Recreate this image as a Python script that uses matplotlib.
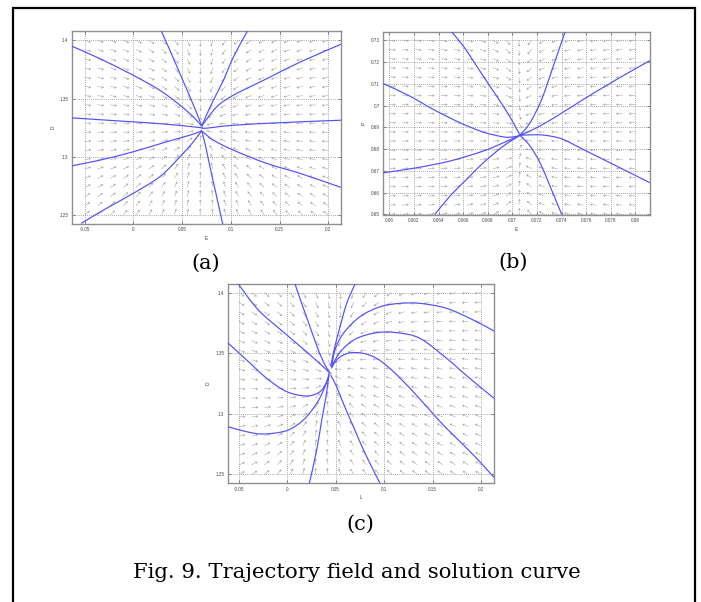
import numpy as np
import matplotlib
matplotlib.use("Agg")
import matplotlib.pyplot as plt
from matplotlib.patches import Rectangle, PathPatch
from matplotlib.path import Path

# ---------------- panel (a): E-D phase plane ----------------
a_xlim = [-0.0631, 0.2130]
a_ylim = [1.2423, 1.4080]
a_xticks = [-0.05, 0, 0.05, 0.1, 0.15, 0.2]
a_xticklabels = ["-0.05", "0", "0.05", "0.1", "0.15", "0.2"]
a_yticks = [1.25, 1.3, 1.35, 1.4]
a_yticklabels = ["1.25", "1.3", "1.35", "1.4"]
a_labels = ["E", "D"]
a_grid_x = [-0.05, 0.2]
a_grid_y = [1.25, 1.40]
a_equilibrium = [0.0700, 1.3245]
a_jacobian = [[-2.0, 0.0], [0.0, -1.5]]
a_quad = 0.8
a_traj_E = [
    [-0.0631, -0.0346, -0.0003, 0.0271, 0.0477, 0.0614, 0.0700],
    [0.0285, 0.0374, 0.0477, 0.0580, 0.0665, 0.0700],
    [0.1170, 0.1026, 0.0923, 0.0820, 0.0734, 0.0700],
    [0.2130, 0.1712, 0.1369, 0.1026, 0.0854, 0.0700],
    [-0.0631, -0.0175, 0.0340, 0.0700],
    [0.2130, 0.1540, 0.1026, 0.0751, 0.0700],
    [-0.0631, -0.0346, -0.0003, 0.0340, 0.0580, 0.0700],
    [-0.0535, -0.0278, -0.0003, 0.0271, 0.0477, 0.0614, 0.0700],
    [0.0916, 0.0854, 0.0785, 0.0734, 0.0700],
    [0.2130, 0.1712, 0.1369, 0.1026, 0.0820, 0.0700],
]
a_traj_D = [
    [1.3949, 1.3843, 1.3700, 1.3571, 1.3443, 1.3343, 1.3263],
    [1.4080, 1.3914, 1.3714, 1.3514, 1.3343, 1.3263],
    [1.4080, 1.3857, 1.3657, 1.3486, 1.3329, 1.3263],
    [1.3966, 1.3814, 1.3671, 1.3529, 1.3429, 1.3263],
    [1.3334, 1.3309, 1.3280, 1.3249],
    [1.3314, 1.3294, 1.3271, 1.3246, 1.3249],
    [1.2923, 1.2971, 1.3043, 1.3129, 1.3186, 1.3223],
    [1.2429, 1.2557, 1.2686, 1.2829, 1.3000, 1.3129, 1.3223],
    [1.2423, 1.2657, 1.2914, 1.3114, 1.3223],
    [1.2737, 1.2857, 1.2943, 1.3057, 1.3143, 1.3223],
]

# ---------------- panel (b): E-P phase plane ----------------
b_xlim = [0.05951, 0.08119]
b_ylim = [0.6497, 0.7338]
b_xticks = [0.06, 0.062, 0.064, 0.066, 0.068, 0.07, 0.072, 0.074, 0.076, 0.078, 0.08]
b_xticklabels = ["0.06", "0.062", "0.064", "0.066", "0.068", "0.07",
                 "0.072", "0.074", "0.076", "0.078", "0.08"]
b_yticks = [0.65, 0.66, 0.67, 0.68, 0.69, 0.70, 0.71, 0.72, 0.73]
b_yticklabels = ["0.65", "0.66", "0.67", "0.68", "0.69", "0.7", "0.71", "0.72", "0.73"]
b_labels = ["E", "P"]
b_grid_x = [0.06, 0.08]
b_grid_y = [0.65, 0.73]
b_equilibrium = [0.07062, 0.68625]
b_jacobian = [[-2.0, 0.0], [0.0, -0.3]]
b_quad = 0.0
b_traj_E = [
    [0.06507, 0.06602, 0.06710, 0.06818, 0.06927, 0.07008, 0.07062],
    [0.07428, 0.07333, 0.07238, 0.07144, 0.07062],
    [0.08119, 0.07848, 0.07577, 0.07360, 0.07198, 0.07062],
    [0.05951, 0.06168, 0.06358, 0.06575, 0.06764, 0.06927, 0.07008, 0.07062],
    [0.08119, 0.07794, 0.07577, 0.07415, 0.07306, 0.07198, 0.07062],
    [0.05951, 0.06222, 0.06493, 0.06764, 0.06927, 0.07062],
    [0.06371, 0.06493, 0.06629, 0.06764, 0.06927, 0.07062],
    [0.07401, 0.07306, 0.07225, 0.07144, 0.07062],
]
b_traj_P = [
    [0.7338, 0.7273, 0.7181, 0.7089, 0.6997, 0.6921, 0.6863],
    [0.7338, 0.7181, 0.7028, 0.6921, 0.6863],
    [0.7207, 0.7120, 0.7028, 0.6951, 0.6898, 0.6863],
    [0.7101, 0.7043, 0.6982, 0.6921, 0.6878, 0.6856, 0.6856, 0.6863],
    [0.6645, 0.6737, 0.6798, 0.6844, 0.6860, 0.6866, 0.6863],
    [0.6691, 0.6714, 0.6745, 0.6791, 0.6829, 0.6863],
    [0.6500, 0.6584, 0.6661, 0.6737, 0.6814, 0.6863],
    [0.6500, 0.6630, 0.6737, 0.6814, 0.6863],
]

# ---------------- panel (c): L-D phase plane ----------------
c_xlim = [-0.0616, 0.2134]
c_ylim = [1.2426, 1.4072]
c_xticks = a_xticks
c_xticklabels = a_xticklabels
c_yticks = a_yticks
c_yticklabels = a_yticklabels
c_labels = ["L", "D"]
c_grid_x = [-0.05, 0.2]
c_grid_y = [1.25, 1.40]
c_equilibrium = [0.0434, 1.3334]
c_jacobian = [[-1.7, 0.15], [0.52, -1.0]]
c_quad = 0.0
c_traj_L = [
    [-0.0506, -0.0299, -0.0024, 0.0217, 0.0389, 0.0441],
    [-0.0616, -0.0420, -0.0213, -0.0007, 0.0200, 0.0337, 0.0406, 0.0430],
    [-0.0616, -0.0420, -0.0248, -0.0007, 0.0165, 0.0303, 0.0389, 0.0430],
    [0.0079, 0.0148, 0.0234, 0.0320, 0.0389, 0.0434],
    [0.0227, 0.0303, 0.0355, 0.0399, 0.0423, 0.0430],
    [0.0957, 0.0802, 0.0682, 0.0578, 0.0509, 0.0447],
    [0.0699, 0.0613, 0.0544, 0.0482, 0.0447],
    [0.2134, 0.1921, 0.1645, 0.1370, 0.1163, 0.0957, 0.0750, 0.0578, 0.0492, 0.0458],
    [0.2134, 0.1921, 0.1783, 0.1645, 0.1370, 0.1129, 0.0922, 0.0716, 0.0578, 0.0492, 0.0458],
    [0.2134, 0.1955, 0.1783, 0.1611, 0.1439, 0.1267, 0.1077, 0.0922, 0.0785, 0.0664,
     0.0578, 0.0509, 0.0458],
]
c_traj_D = [
    [1.4072, 1.3857, 1.3664, 1.3499, 1.3375, 1.3334],
    [1.3587, 1.3444, 1.3293, 1.3183, 1.3147, 1.3183, 1.3265, 1.3334],
    [1.2894, 1.2852, 1.2833, 1.2861, 1.2949, 1.3086, 1.3224, 1.3320],
    [1.4072, 1.3912, 1.3719, 1.3527, 1.3403, 1.3348],
    [1.2426, 1.2701, 1.2949, 1.3141, 1.3279, 1.3312],
    [1.2426, 1.2674, 1.2894, 1.3086, 1.3224, 1.3320],
    [1.4072, 1.3912, 1.3719, 1.3527, 1.3389],
    [1.3684, 1.3774, 1.3871, 1.3912, 1.3912, 1.3884, 1.3802, 1.3664, 1.3527, 1.3389],
    [1.3128, 1.3268, 1.3362, 1.3458, 1.3623, 1.3670, 1.3670, 1.3623, 1.3540, 1.3444, 1.3375],
    [1.2475, 1.2632, 1.2770, 1.2907, 1.3059, 1.3210, 1.3362, 1.3458, 1.3499, 1.3505,
     1.3485, 1.3444, 1.3384],
]

FIG_W, FIG_H = 701, 602
CURVE_COLOR = "#5050ff"
ARROW_COLOR = "#a6a6a6"
GRID_N = 20
ARROW_LEN_PX = 6.5

fig = plt.figure(figsize=(FIG_W / 100, FIG_H / 100), dpi=100)


def px_axes(left, top, right, bottom):
    return fig.add_axes([left / FIG_W, 1 - bottom / FIG_H,
                         (right - left) / FIG_W, (bottom - top) / FIG_H])


def direction_field(X, Y, xlim, ylim, eq, jac, quad, w_px, h_px):
    hx = (xlim[1] - xlim[0]) / 2
    hy = (ylim[1] - ylim[0]) / 2
    u = (X - eq[0]) / hx
    v = (Y - eq[1]) / hy
    fu = jac[0][0] * u + jac[0][1] * v
    fv = jac[1][0] * u + jac[1][1] * v + quad * v ** 2
    du = fu * w_px / 2
    dv = fv * h_px / 2
    n = np.hypot(du, dv)
    n[n == 0] = 1.0
    return du / n, dv / n


def smooth_path(xs, ys):
    """Cubic Bezier path through the given points (Catmull-Rom tangents)."""
    p = np.column_stack([xs, ys]).astype(float)
    ext = np.vstack([p[0], p, p[-1]])
    verts = [p[0]]
    codes = [Path.MOVETO]
    for i in range(len(p) - 1):
        p0, p1, p2, p3 = ext[i], ext[i + 1], ext[i + 2], ext[i + 3]
        verts += [p1 + (p2 - p0) / 6.0, p2 - (p3 - p1) / 6.0, p2]
        codes += [Path.CURVE4] * 3
    return Path(np.array(verts), codes)


def draw_panel(ax, xlim, ylim, xticks, xticklabels, yticks, yticklabels, labels,
               grid_x, grid_y, eq, jac, quad, traj_x, traj_y):
    ax.set_xlim(xlim)
    ax.set_ylim(ylim)
    pos = ax.get_position()
    w_px = pos.width * FIG_W
    h_px = pos.height * FIG_H

    gx = np.linspace(grid_x[0], grid_x[1], GRID_N)
    gy = np.linspace(grid_y[0], grid_y[1], GRID_N)
    X, Y = np.meshgrid(gx, gy)
    U, V = direction_field(X, Y, xlim, ylim, eq, jac, quad, w_px, h_px)
    ax.quiver(X, Y, U, V, angles="uv", pivot="tail", scale_units="dots",
              scale=1.0 / ARROW_LEN_PX, units="dots", width=0.55,
              headwidth=5, headlength=4, headaxislength=3.5,
              color=ARROW_COLOR, zorder=2)

    for xs, ys in zip(traj_x, traj_y):
        ax.add_patch(PathPatch(smooth_path(xs, ys), facecolor="none",
                               edgecolor=CURVE_COLOR, lw=0.85, zorder=3))

    ax.set_xticks(xticks)
    ax.set_xticklabels(xticklabels)
    ax.set_yticks(yticks)
    ax.set_yticklabels(yticklabels)
    ax.grid(True, linestyle=(0, (1, 1.5)), color="#8c8c8c", linewidth=0.6, zorder=1)
    ax.set_axisbelow(True)
    ax.tick_params(direction="in", length=2.5, width=0.6, color="#707070",
                   top=True, right=True, labelsize=3.3, labelcolor="#444444", pad=2.5)
    for lab in ax.get_xticklabels() + ax.get_yticklabels():
        lab.set_family("Liberation Sans")
    for sp in ax.spines.values():
        sp.set_color("#8f8f8f")
        sp.set_linewidth(1.0)
    ax.set_xlabel(labels[0], fontsize=3.5, color="#444444", labelpad=2.5,
                  family="Liberation Sans")
    ax.set_ylabel(labels[1], fontsize=3.5, color="#444444", labelpad=3,
                  family="Liberation Sans")


ax_a = px_axes(72, 31, 341, 224)
ax_b = px_axes(383.3, 32, 650, 215)
ax_c = px_axes(227.7, 284, 494, 483.3)

draw_panel(ax_a, a_xlim, a_ylim, a_xticks, a_xticklabels, a_yticks, a_yticklabels,
           a_labels, a_grid_x, a_grid_y, a_equilibrium, a_jacobian, a_quad,
           a_traj_E, a_traj_D)
draw_panel(ax_b, b_xlim, b_ylim, b_xticks, b_xticklabels, b_yticks, b_yticklabels,
           b_labels, b_grid_x, b_grid_y, b_equilibrium, b_jacobian, b_quad,
           b_traj_E, b_traj_P)
draw_panel(ax_c, c_xlim, c_ylim, c_xticks, c_xticklabels, c_yticks, c_yticklabels,
           c_labels, c_grid_x, c_grid_y, c_equilibrium, c_jacobian, c_quad,
           c_traj_L, c_traj_D)

# outer frame (open at the bottom edge of the canvas)
fig.add_artist(Rectangle((12.5 / FIG_W, -0.02), (695 - 12.5) / FIG_W,
                         1 - 7.5 / FIG_H + 0.02, transform=fig.transFigure,
                         fill=False, edgecolor="black", linewidth=1.6))

serif = "DejaVu Serif"
fig.text(206 / FIG_W, 1 - 263 / FIG_H, "(a)", ha="center", va="center",
         fontsize=15, family=serif)
fig.text(513 / FIG_W, 1 - 262 / FIG_H, "(b)", ha="center", va="center",
         fontsize=15, family=serif)
fig.text(360 / FIG_W, 1 - 524 / FIG_H, "(c)", ha="center", va="center",
         fontsize=15, family=serif)
fig.text(357 / FIG_W, 1 - 572 / FIG_H, "Fig. 9. Trajectory field and solution curve",
         ha="center", va="center", fontsize=15.3, family=serif)

fig.savefig("out.png", dpi=100)
